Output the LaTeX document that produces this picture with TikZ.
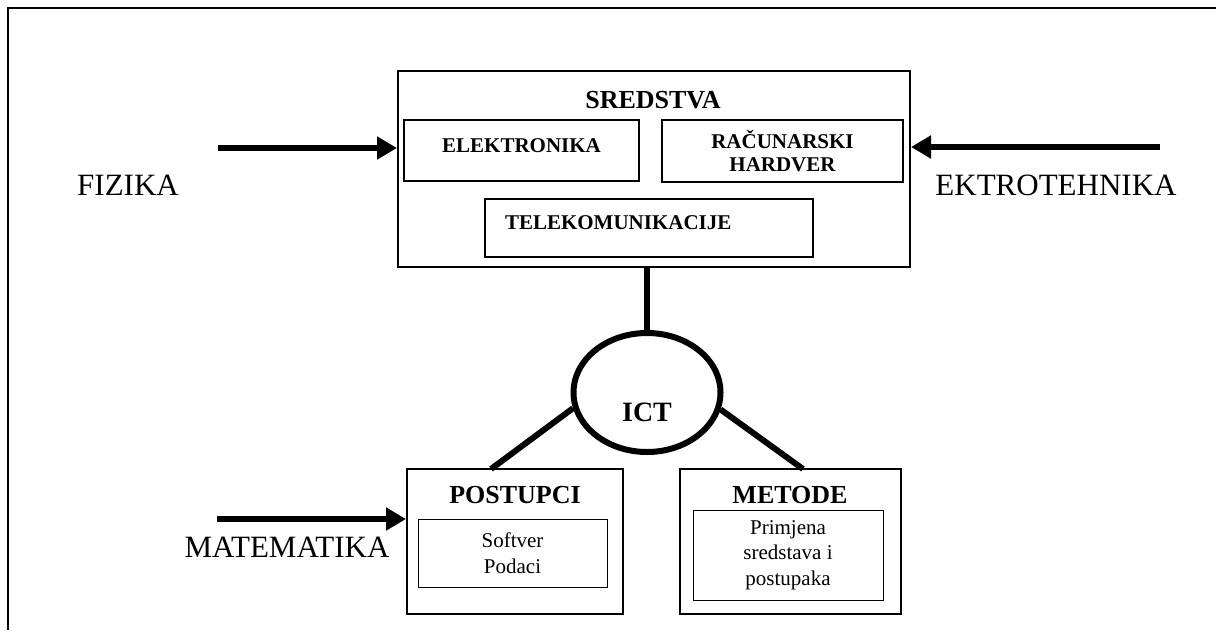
\documentclass[tikz,border=0pt]{standalone}
\usepackage{fontspec}
\setmainfont{Liberation Serif}
\usetikzlibrary{arrows.meta,shapes.geometric}
\tikzstyle{groupbox} = [rectangle, draw, line width=2pt, inner sep=0pt]
\tikzstyle{partbox} = [rectangle, draw, line width=2pt, inner sep=0pt, font=\fontsize{21}{23}\selectfont\bfseries, align=center]
\tikzstyle{detailbox} = [rectangle, draw, line width=1pt, inner sep=0pt, font=\fontsize{21}{25.5}\selectfont, align=center]
\tikzstyle{heading} = [inner sep=0pt, font=\fontsize{26}{30}\selectfont\bfseries]
\tikzstyle{science} = [inner sep=0pt, font=\fontsize{31}{36}\selectfont]
\tikzstyle{connector} = [line width=6pt, -{Triangle[length=20pt,width=22pt]}]
\tikzstyle{link} = [line width=6pt]

\begin{document}
\begin{tikzpicture}[x=1pt, y=-1pt]
        \useasboundingbox (0,0) rectangle (1216,630);
        % frame
        \draw [line width=2.5pt] (1216,8) -- (8,8) -- (8,630);
        % resources
        \node (sredstva) [groupbox, minimum width=512, minimum height=196] at (654,169) {};
        \node (sredstva-title) [heading] at (653,100) {SREDSTVA};
        \node (elektronika) [partbox, minimum width=235, minimum height=61, text depth=10pt] at (521.5,150.5) {ELEKTRONIKA};
        \node (hardver) [partbox, minimum width=241, minimum height=62] at (782.5,151) {RAČUNARSKI\\HARDVER};
        \node (telekom) [partbox, minimum height=58, text width=288, inner xsep=20pt, align=left, text depth=10pt] at (649,228) {TELEKOMUNIKACIJE};
        % ICT
        \node (ict) [ellipse, draw, line width=6pt, minimum width=147, minimum height=119, inner sep=0pt, font=\fontsize{28}{32}\selectfont\bfseries, text height=59pt] at (647,392.5) {ICT};
        % procedures and methods
        \node (postupci) [groupbox, minimum width=216, minimum height=145] at (515,541.5) {};
        \node (postupci-title) [heading] at (515,495) {POSTUPCI};
        \node (softver) [detailbox, minimum width=189, minimum height=68] at (512.5,553) {Softver\\Podaci};
        \node (metode) [groupbox, minimum width=221, minimum height=145] at (790.5,541.5) {};
        \node (metode-title) [heading] at (790,495) {METODE};
        \node (primjena) [detailbox, minimum width=190, minimum height=90] at (788,555) {Primjena\\sredstava i\\postupaka};
        % sciences
        \node (fizika) [science] at (128,185) {FIZIKA};
        \node (ektro) [science] at (1056,185) {EKTROTEHNIKA};
        \node (matematika) [science] at (287,547) {MATEMATIKA};
        \coordinate (fizika-in) at (218,148);
        \coordinate (ektro-in) at (1160,147);
        \coordinate (matematika-in) at (217,519);
        \coordinate (postupci-in) at (491,469);
        \coordinate (metode-in) at (803,469);
        \draw [connector] (fizika-in) -- (fizika-in -| sredstva.west);
        \draw [connector] (ektro-in) -- (ektro-in -| sredstva.east);
        \draw [connector] (matematika-in) -- (matematika-in -| postupci.west);
        \draw [link] (ict.north) -- (ict.north |- sredstva.south);
        \draw [link] (ict.192) -- (postupci-in);
        \draw [link] (ict.-13) -- (metode-in);
    \end{tikzpicture}
\end{document}
